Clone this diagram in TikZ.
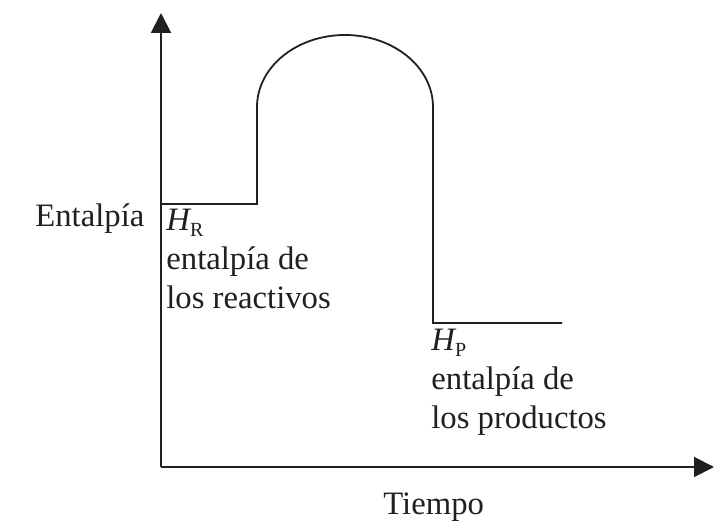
\documentclass[tikz,border=0pt]{standalone}
\usepackage{fontspec}
\setmainfont{Liberation Serif}
\usetikzlibrary{arrows.meta}
\definecolor{ink}{HTML}{231F20}
\tikzset{
  lbl/.style={inner sep=0pt, anchor=base west, text=ink, font=\fontsize{16.35}{19.6}\selectfont},
  axis/.style={draw=ink, line width=1pt, -{Triangle[length=10pt,width=10pt]}},
  curve/.style={draw=ink, line width=0.9pt}
}
\newcommand{\Hsub}[1]{{\itshape H}\raisebox{-0.18em}{\fontsize{10}{12}\selectfont #1}}
\begin{document}
\begin{tikzpicture}[x=0.5pt,y=-0.5pt]
\useasboundingbox (0,0) rectangle (714,523);
% axes
\coordinate (O) at (161,467);
\coordinate (Ytip) at (161,13);
\coordinate (Xtip) at (714,467);
\draw[axis] (O) -- (Ytip);
\draw[axis] (O) -- (Xtip);
% enthalpy profile
\coordinate (R0) at (161,204);
\coordinate (R1) at (257,204);
\coordinate (A0) at (257,107);
\coordinate (A1) at (433,107);
\coordinate (P0) at (433,323);
\coordinate (P1) at (562,323);
\draw[curve] (R0) -- (R1) -- (A0) arc[start angle=180, end angle=360, x radius=88, y radius=72] -- (P0) -- (P1);
% labels
\node[lbl] (ylab) at (35,227) {Entalpía};
\node[lbl] (xlab) at (383,515) {Tiempo};
\node[lbl] (hr) at (166,231) {\Hsub{R}};
\node[lbl] (hr1) at (166,270) {entalpía de};
\node[lbl] (hr2) at (166,309) {los reactivos};
\node[lbl] (hp) at (431,351) {\Hsub{P}};
\node[lbl] (hp1) at (431,390) {entalpía de};
\node[lbl] (hp2) at (431,429) {los productos};
\end{tikzpicture}
\end{document}
